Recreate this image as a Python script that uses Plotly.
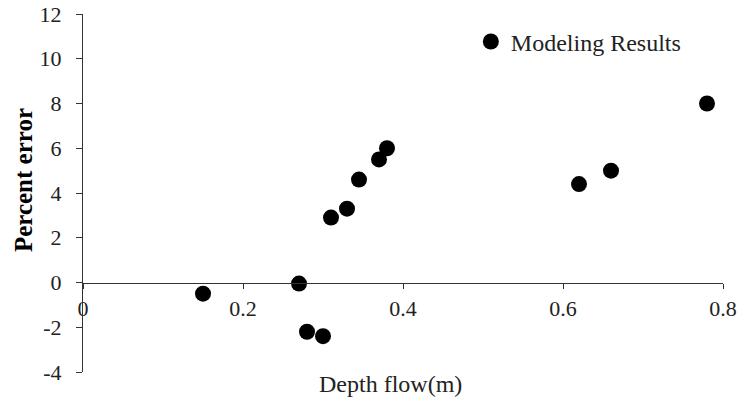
import plotly.graph_objects as go

# Data
depth_flow = [0.15, 0.27, 0.28, 0.30, 0.31, 0.33, 0.345, 0.37, 0.38, 0.62, 0.66, 0.78]
percent_error = [-0.5, -0.05, -2.2, -2.4, 2.9, 3.3, 4.6, 5.5, 6.0, 4.4, 5.0, 8.0]

x_tickvals = [0, 0.2, 0.4, 0.6, 0.8]
x_ticktext = ["0", "0.2", "0.4", "0.6", "0.8"]
y_tickvals = [-4, -2, 0, 2, 4, 6, 8, 10, 12]
y_ticktext = ["-4", "-2", "0", "2", "4", "6", "8", "10", "12"]

FONT = "Liberation Serif"

fig = go.Figure()
fig.add_trace(go.Scatter(
    x=depth_flow, y=percent_error, mode="markers", name="Modeling Results",
    marker=dict(color="black", size=16),
))

fig.update_layout(
    width=740, height=400,
    margin=dict(l=83, r=17, t=14, b=28, autoexpand=False),
    paper_bgcolor="white", plot_bgcolor="white",
    font=dict(family=FONT, size=22, color="#222"),
    showlegend=True,
    legend=dict(x=0.606, y=0.985, xanchor="left", yanchor="top",
                bgcolor="rgba(0,0,0,0)", itemwidth=30,
                font=dict(family=FONT, size=24, color="#222")),
    xaxis=dict(range=[0, 0.8], tickvals=x_tickvals, ticktext=x_ticktext,
               anchor="free", position=0.25, automargin=False,
               showline=True, linecolor="#333", linewidth=1,
               ticks="outside", ticklen=5, tickcolor="#333",
               ticklabelstandoff=1,
               showgrid=False, zeroline=False,
               tickfont=dict(family=FONT, size=22, color="#222")),
    yaxis=dict(range=[-4, 12], tickvals=y_tickvals, ticktext=y_ticktext,
               automargin=False,
               showline=True, linecolor="#333", linewidth=1,
               ticks="outside", ticklen=6, tickcolor="#333",
               ticklabelstandoff=10,
               showgrid=False, zeroline=False,
               tickfont=dict(family=FONT, size=22, color="#222")),
    annotations=[
        dict(text="Depth flow(m)", xref="paper", yref="paper",
             x=0.48, y=0, yshift=-12, xanchor="center", yanchor="middle",
             showarrow=False,
             font=dict(family=FONT, size=24, color="#222")),
        dict(text="<b>Percent error</b>", xref="paper", yref="paper",
             x=0, y=0.536, xshift=-60, xanchor="center", yanchor="middle",
             textangle=-90, showarrow=False,
             font=dict(family=FONT, size=25, color="black")),
    ],
)

fig.write_html("out.html")
